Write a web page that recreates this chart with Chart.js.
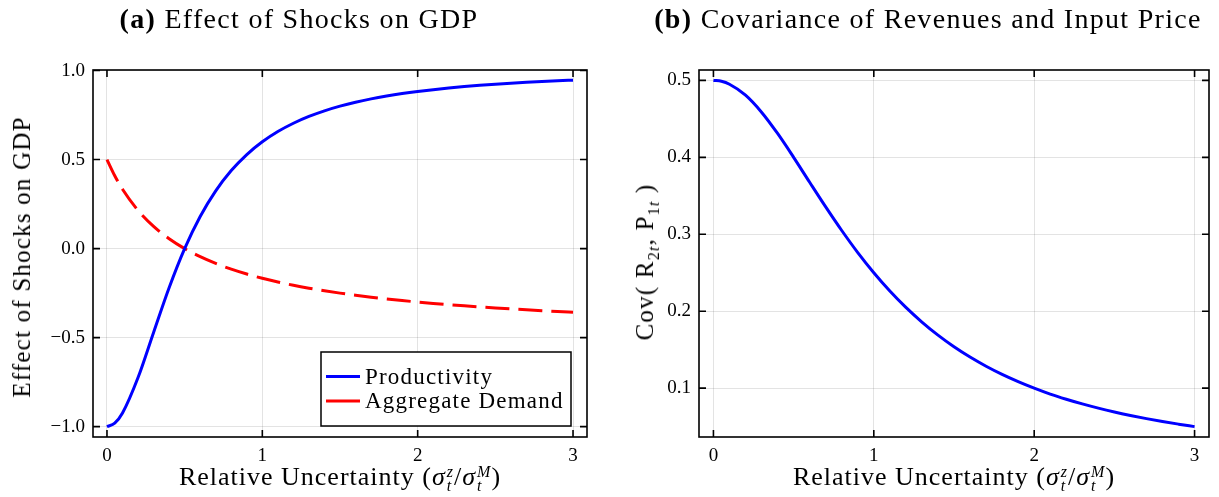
<!DOCTYPE html>
<html>
<head>
<meta charset="utf-8">
<script src="https://cdn.jsdelivr.net/npm/chart.js@4.4.1/dist/chart.umd.min.js"></script>
<style>
body { margin: 0; background: #fff; width: 1219px; height: 497px; overflow: hidden; position: relative; font-family: "Liberation Serif", serif; color: #000; }
.panel { position: absolute; top: 0; height: 497px; }
.title { position: absolute; top: 3px; font-size: 28px; letter-spacing: 1.3px; white-space: nowrap; transform: translateX(-50%); }
.xlabel { position: absolute; top: 462px; font-size: 26px; letter-spacing: 1px; white-space: nowrap; transform: translateX(-50%); }
.ylabel { position: absolute; font-size: 25px; letter-spacing: 1.2px; white-space: nowrap; transform: translate(-50%, -50%) rotate(-90deg); }
.ss { display: inline-flex; flex-direction: column; vertical-align: middle; font-size: 16px; line-height: 14px; font-style: italic; margin-left: 1px; }
i { font-style: italic; }
sub { font-size: 16px; }
</style>
</head>
<body>
<div class="panel" style="left:0;width:610px"><canvas id="chartA" width="610" height="497"></canvas></div>
<div class="panel" style="left:610px;width:609px"><canvas id="chartB" width="609" height="497"></canvas></div>

<div class="title" style="left:299px"><b>(a)</b> Effect of Shocks on GDP</div>
<div class="title" style="left:928px"><b>(b)</b> Covariance of Revenues and Input Price</div>
<div class="xlabel" style="left:340px">Relative Uncertainty (<i>σ</i><span class="ss"><span>z</span><span>t</span></span>/<i>σ</i><span class="ss"><span>M</span><span>t</span></span>)</div>
<div class="xlabel" style="left:954px">Relative Uncertainty (<i>σ</i><span class="ss"><span>z</span><span>t</span></span>/<i>σ</i><span class="ss"><span>M</span><span>t</span></span>)</div>
<div class="ylabel" style="left:22px;top:257px">Effect of Shocks on GDP</div>
<div class="ylabel" style="left:647px;top:262px">Cov( R<sub>2<i>t</i></sub>, P<sub>1<i>t</i></sub> )</div>

<script>
var xValues = [0, 0.05, 0.1, 0.2, 0.3, 0.4, 0.5, 0.6, 0.7, 0.8, 0.9, 1.0, 1.1, 1.2, 1.3, 1.4, 1.5, 1.6, 1.7, 1.8, 1.9, 2.0, 2.1, 2.2, 2.3, 2.4, 2.5, 2.6, 2.7, 2.8, 2.9, 3.0];
var productivity = [-1.0000, -0.9802, -0.9231, -0.7241, -0.4706, -0.2195, 0.0000, 0.1803, 0.3243, 0.4382, 0.5283, 0.6000, 0.6575, 0.7041, 0.7423, 0.7738, 0.8000, 0.8221, 0.8408, 0.8567, 0.8705, 0.8824, 0.8927, 0.9018, 0.9097, 0.9168, 0.9231, 0.9287, 0.9337, 0.9382, 0.9423, 0.9459];
var aggregateDemand = [0.5000, 0.4091, 0.3333, 0.2143, 0.1250, 0.0556, 0.0000, -0.0455, -0.0833, -0.1154, -0.1429, -0.1667, -0.1875, -0.2059, -0.2222, -0.2368, -0.2500, -0.2619, -0.2727, -0.2826, -0.2917, -0.3000, -0.3077, -0.3148, -0.3214, -0.3276, -0.3333, -0.3387, -0.3438, -0.3485, -0.3529, -0.3571];
var covariance = [0.5000, 0.4988, 0.4950, 0.4808, 0.4587, 0.4310, 0.4000, 0.3676, 0.3356, 0.3049, 0.2762, 0.2500, 0.2262, 0.2049, 0.1859, 0.1689, 0.1538, 0.1404, 0.1285, 0.1179, 0.1085, 0.1000, 0.0923, 0.0856, 0.0795, 0.0740, 0.0690, 0.0645, 0.0604, 0.0566, 0.0532, 0.0500];

var xTicks = [0, 1, 2, 3];
var xTickLabels = ['0', '1', '2', '3'];
var leftYTicks = [-1, -0.5, 0, 0.5, 1];
var leftYTickLabels = ['\u22121.0', '\u22120.5', '0.0', '0.5', '1.0'];
var rightYTicks = [0.1, 0.2, 0.3, 0.4, 0.5];
var rightYTickLabels = ['0.1', '0.2', '0.3', '0.4', '0.5'];
var seriesLabels = ['Productivity', 'Aggregate Demand'];

var serif = '"Liberation Serif", serif';

function toPoints(ys) {
    return xValues.map(function(x, i) { return { x: x, y: ys[i] }; });
}

function fixTicks(values, labels) {
    return {
        afterBuildTicks: function(scale) {
            scale.ticks = values.map(function(v) { return { value: v }; });
        },
        ticks: {
            callback: function(v) { return labels[values.indexOf(v)]; }
        }
    };
}

// box + inward ticks on all four sides
var framePlugin = {
    id: 'frame',
    afterDatasetsDraw: function(chart) {
        var ctx = chart.ctx, a = chart.chartArea;
        var xs = chart.scales.x, ys = chart.scales.y;
        ctx.save();
        ctx.strokeStyle = '#000';
        ctx.lineWidth = 1.6;
        ctx.strokeRect(a.left, a.top, a.right - a.left, a.bottom - a.top);
        ctx.beginPath();
        xs.ticks.forEach(function(t) {
            var px = xs.getPixelForValue(t.value);
            ctx.moveTo(px, a.bottom); ctx.lineTo(px, a.bottom - 7);
            ctx.moveTo(px, a.top); ctx.lineTo(px, a.top + 7);
        });
        ys.ticks.forEach(function(t) {
            var py = ys.getPixelForValue(t.value);
            ctx.moveTo(a.left, py); ctx.lineTo(a.left + 7, py);
            ctx.moveTo(a.right, py); ctx.lineTo(a.right - 7, py);
        });
        ctx.stroke();
        ctx.restore();
    }
};

var legendPlugin = {
    id: 'boxLegend',
    afterDraw: function(chart) {
        var ctx = chart.ctx, a = chart.chartArea;
        var w = 250, h = 74;
        var x = a.right - 16 - w, y = a.bottom - 11 - h;
        ctx.save();
        ctx.fillStyle = '#fff';
        ctx.fillRect(x, y, w, h);
        ctx.strokeStyle = '#000';
        ctx.lineWidth = 1.5;
        ctx.strokeRect(x, y, w, h);
        ctx.font = '23px ' + serif;
        ctx.letterSpacing = '1.2px';
        ctx.textBaseline = 'middle';
        chart.data.datasets.forEach(function(ds, i) {
            var ry = y + 24.5 + i * 24.5;
            ctx.strokeStyle = ds.borderColor;
            ctx.lineWidth = 3;
            ctx.beginPath();
            ctx.moveTo(x + 5, ry); ctx.lineTo(x + 39, ry);
            ctx.stroke();
            ctx.fillStyle = '#000';
            ctx.fillText(ds.label, x + 44, ry + 1);
        });
        ctx.restore();
    }
};

function makeOptions(yMin, yMax, yVals, yLabels, rightPad, yWidth) {
    var gridColor = 'rgba(0,0,0,0.11)';
    var xOpt = Object.assign({
        type: 'linear', min: -0.09, max: 3.09,
        grid: { color: gridColor, drawTicks: false },
        border: { display: false },
        afterFit: function(scale) { scale.height = 60; }
    }, fixTicks(xTicks, xTickLabels));
    xOpt.ticks.padding = 8;
    xOpt.ticks.color = '#000';
    xOpt.ticks.font = { family: serif, size: 19 };
    var yOpt = Object.assign({
        type: 'linear', min: yMin, max: yMax,
        grid: { color: gridColor, drawTicks: false },
        border: { display: false },
        afterFit: function(scale) { scale.width = yWidth; }
    }, fixTicks(yVals, yLabels));
    yOpt.ticks.padding = 8;
    yOpt.ticks.color = '#000';
    yOpt.ticks.font = { family: serif, size: 19 };
    return {
        responsive: false,
        animation: false,
        devicePixelRatio: 1,
        layout: { padding: { left: 0, top: 70, right: rightPad, bottom: 0 } },
        plugins: { legend: { display: false }, tooltip: { enabled: false } },
        elements: { point: { radius: 0 } },
        scales: { x: xOpt, y: yOpt }
    };
}

new Chart(document.getElementById('chartA'), {
    type: 'line',
    data: {
        datasets: [{
            label: seriesLabels[0],
            data: toPoints(productivity),
            borderColor: '#0000ff',
            borderWidth: 3,
            cubicInterpolationMode: 'monotone'
        }, {
            label: seriesLabels[1],
            data: toPoints(aggregateDemand),
            borderColor: '#ff0000',
            borderWidth: 3,
            borderDash: [24, 9],
            cubicInterpolationMode: 'monotone'
        }]
    },
    options: makeOptions(-1.058, 1.003, leftYTicks, leftYTickLabels, 23, 93),
    plugins: [framePlugin, legendPlugin]
});

new Chart(document.getElementById('chartB'), {
    type: 'line',
    data: {
        datasets: [{
            label: 'Cov',
            data: toPoints(covariance),
            borderColor: '#0000ff',
            borderWidth: 3,
            cubicInterpolationMode: 'monotone'
        }]
    },
    options: makeOptions(0.0365, 0.5135, rightYTicks, rightYTickLabels, 10, 89),
    plugins: [framePlugin]
});
</script>
</body>
</html>
